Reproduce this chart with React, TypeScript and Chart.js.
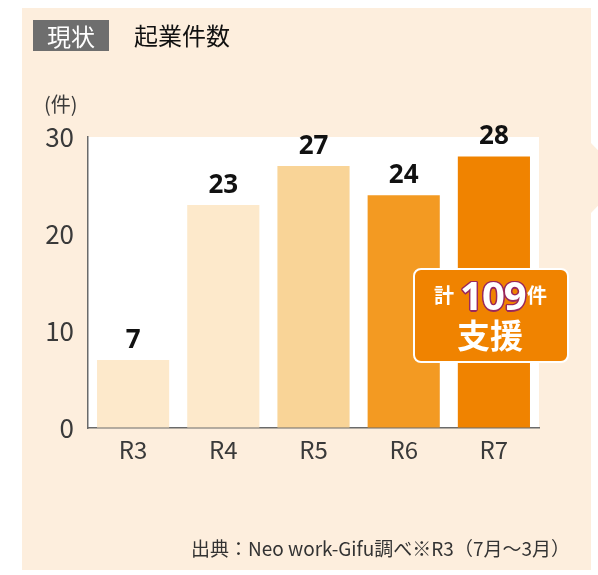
import React, { useEffect, useRef } from "react";
import { Chart, registerables } from "chart.js";

Chart.register(...registerables);

const categories = ["R3", "R4", "R5", "R6", "R7"];
const startups = [7, 23, 27, 24, 28];
const barColors = ["#FDE9CB", "#FDE9CB", "#F9D497", "#F39A22", "#F08300"];
const yTicks = [0, 10, 20, 30];

const JP = '"Noto Sans CJK JP", "Noto Sans", sans-serif';

const panelPlugin = {
  id: "panel",
  beforeDraw(chart: any) {
    const { ctx, chartArea } = chart;
    ctx.save();
    ctx.fillStyle = "#FDEEDD";
    ctx.beginPath();
    ctx.moveTo(22, 8);
    ctx.lineTo(591, 8);
    ctx.lineTo(591, 143);
    ctx.lineTo(625, 178);
    ctx.lineTo(591, 213);
    ctx.lineTo(591, 570);
    ctx.lineTo(22, 570);
    ctx.closePath();
    ctx.fill();
    ctx.fillStyle = "#FFFFFF";
    ctx.fillRect(chartArea.left, chartArea.top, chartArea.right - chartArea.left, chartArea.bottom - chartArea.top);
    ctx.restore();
  },
};

const valueLabelPlugin = {
  id: "valueLabels",
  afterDatasetsDraw(chart: any) {
    const { ctx } = chart;
    const meta = chart.getDatasetMeta(0);
    ctx.save();
    ctx.fillStyle = "#111111";
    ctx.font = 'bold 26px "Noto Sans", "Noto Sans CJK JP", sans-serif';
    ctx.textAlign = "center";
    ctx.textBaseline = "alphabetic";
    meta.data.forEach((bar: any, i: number) => {
      ctx.fillText(String(startups[i]), bar.x, bar.y - 12);
    });
    ctx.restore();
  },
};

export default function App() {
  const canvasRef = useRef<HTMLCanvasElement | null>(null);

  useEffect(() => {
    if (!canvasRef.current) return;
    const chart = new Chart(canvasRef.current, {
      type: "bar",
      data: {
        labels: categories,
        datasets: [
          {
            data: startups,
            backgroundColor: barColors,
            borderWidth: 0,
            barPercentage: 0.8,
            categoryPercentage: 1,
          },
        ],
      },
      options: {
        responsive: false,
        animation: false,
        devicePixelRatio: 1,
        layout: { padding: { left: 0, top: 137, right: 59, bottom: 0 } },
        plugins: { legend: { display: false }, tooltip: { enabled: false } },
        scales: {
          x: {
            grid: { color: "rgba(0,0,0,0)", drawTicks: false },
            border: { display: true, color: "#6A6A6A", width: 1.5 },
            ticks: {
              color: "#3A3A3A",
              font: { family: JP, size: 24 },
              padding: 7,
            },
            afterFit: (s: any) => {
              s.height = 147;
            },
          },
          y: {
            min: 0,
            max: 30,
            afterBuildTicks: (s: any) => {
              s.ticks = yTicks.map((v) => ({ value: v }));
            },
            grid: { color: "rgba(0,0,0,0)", drawTicks: false },
            border: { display: true, color: "#6A6A6A", width: 1.5 },
            ticks: {
              color: "#3A3A3A",
              font: { family: JP, size: 26 },
              padding: 14,
            },
            afterFit: (s: any) => {
              s.width = 88;
            },
          },
        },
      },
      plugins: [panelPlugin, valueLabelPlugin],
    });
    return () => chart.destroy();
  }, []);

  const abs = (o: React.CSSProperties): React.CSSProperties => ({ position: "absolute", whiteSpace: "nowrap", ...o });

  return (
    <div style={{ position: "fixed", left: 0, top: 0, width: 598, height: 575, overflow: "hidden", background: "#FFFFFF", fontFamily: JP }}>
      <canvas ref={canvasRef} width={598} height={575} style={{ position: "absolute", left: 0, top: 0, width: 598, height: 575 }} />
      <div style={abs({ left: 33, top: 20, width: 76, height: 31, background: "#6E6E6E", color: "#FFFFFF", fontSize: 24, lineHeight: "31px", textAlign: "center" })}>現状</div>
      <div style={abs({ left: 134, top: 23, fontSize: 24, lineHeight: "24px", color: "#111111" })}>起業件数</div>
      <div style={abs({ left: 44, top: 94, fontSize: 20, lineHeight: "20px", color: "#3A3A3A" })}>(件)</div>
      <div style={abs({ left: 413, top: 268, width: 156, height: 95, boxSizing: "border-box", background: "#F08300", border: "2px solid #FFFFFF", borderRadius: 8 })} />
      <div style={abs({ left: 434, top: 285, fontSize: 20, lineHeight: "20px", color: "#FFFFFF", fontWeight: 700 })}>計</div>
      <div style={abs({ left: 460, top: 275, fontSize: 40, lineHeight: "40px", color: "#FFFFFF", fontWeight: 700, fontFamily: '"Noto Sans", sans-serif', letterSpacing: -1, textShadow: "0 0 1px #9B2A5C, 1.5px 0 0 #9B2A5C, -1.5px 0 0 #9B2A5C, 0 1.5px 0 #9B2A5C, 0 -1.5px 0 #9B2A5C, 1px 1px 0 #9B2A5C, -1px -1px 0 #9B2A5C, 1px -1px 0 #9B2A5C, -1px 1px 0 #9B2A5C" })}>109</div>
      <div style={abs({ left: 527, top: 285, fontSize: 20, lineHeight: "20px", color: "#FFFFFF", fontWeight: 700 })}>件</div>
      <div style={abs({ left: 457, top: 318, fontSize: 33, lineHeight: "33px", color: "#FFFFFF", fontWeight: 700 })}>支援</div>
      <div style={abs({ right: 28, top: 538, fontSize: 19, lineHeight: "20px", color: "#333333" })}>出典：Neo work-Gifu調べ※R3（7月～3月）</div>
    </div>
  );
}
